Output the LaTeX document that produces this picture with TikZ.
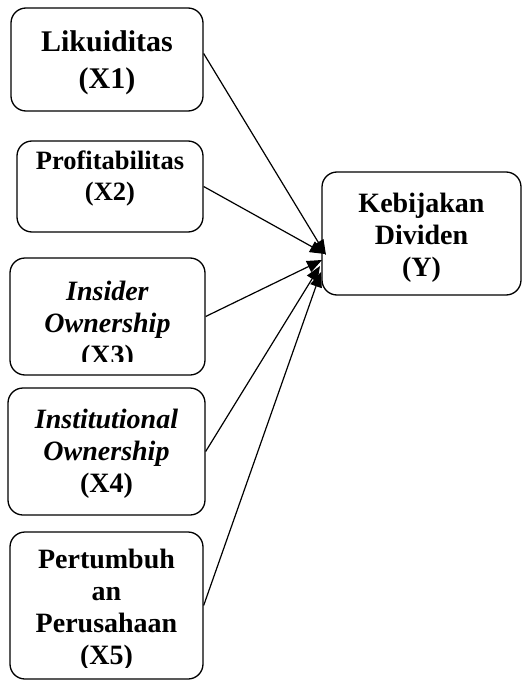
\documentclass[tikz,border=0pt]{standalone}
\usepackage{fontspec}
\setmainfont{Liberation Serif}
\usetikzlibrary{positioning,arrows.meta}

\tikzset{
  box/.style={draw, line width=1.3pt, rounded corners=15pt, inner sep=0pt},
  lbl/.style={font=\bfseries\fontsize{28}{32}\selectfont, align=center, inner sep=0pt},
  link/.style={line width=1.2pt, -{Triangle[length=15pt,width=12pt]}}
}

\begin{document}
\begin{tikzpicture}[x=1pt,y=-1pt]
    \useasboundingbox (0,0) rectangle (522,682);
    % variable boxes
    \node [box, minimum width=192pt, minimum height=103pt] (x1) at (107,59.5) {};
    \node [box, minimum width=186pt, minimum height=91pt]  (x2) at (110,186.5) {};
    \node [box, minimum width=195pt, minimum height=117pt] (x3) at (107.5,316.5) {};
    \node [box, minimum width=197pt, minimum height=127pt] (x4) at (106.5,451.5) {};
    \node [box, minimum width=193pt, minimum height=147pt] (x5) at (106.5,605.5) {};
    \node [box, minimum width=199pt, minimum height=123pt] (y)  at (421.5,233.5) {};

    % texts
    \node [lbl, font=\bfseries\fontsize{30}{37}\selectfont, below=23pt of x1.north] (x1t) {Likuiditas\\(X1)};
    \node [lbl, font=\bfseries\fontsize{26.5}{31}\selectfont, below=10pt of x2.north] (x2t) {Profitabilitas\\(X2)};
    \begin{scope}
      \clip ([yshift=14pt]x3.south west) rectangle (x3.north east);
      \node [lbl, below=24pt of x3.north] (x3t) {\textit{Insider}\\\textit{Ownership}\\(X3)};
    \end{scope}
    \node [lbl, below=22pt of x4.north] (x4t) {\textit{Institutional}\\\textit{Ownership}\\(X4)};
    \begin{scope}
      \clip ([yshift=12pt]x5.south west) rectangle (x5.north east);
      \node [lbl, below=18pt of x5.north] (x5t) {Pertumbuh\\an\\Perusahaan\\(X5)};
    \end{scope}
    \begin{scope}
      \clip ([yshift=13pt]y.south west) rectangle (y.north east);
      \node [lbl, below=22pt of y.north] (yt) {Kebijakan\\Dividen\\(Y)};
    \end{scope}

    % arrow tips at Y
    \coordinate (t1) at (326,255);
    \coordinate (t2) at (325,254);
    \coordinate (t3) at (322,260);
    \coordinate (t4) at (320,266);
    \coordinate (t5) at (321,272);

    \draw [link] ([yshift=6pt]x1.east) -- (t1);
    \draw [link] (x2.east) -- (t2);
    \draw [link] (x3.east) -- (t3);
    \draw [link] (x4.east) -- (t4);
    \draw [link] (x5.east) -- (t5);
\end{tikzpicture}
\end{document}
